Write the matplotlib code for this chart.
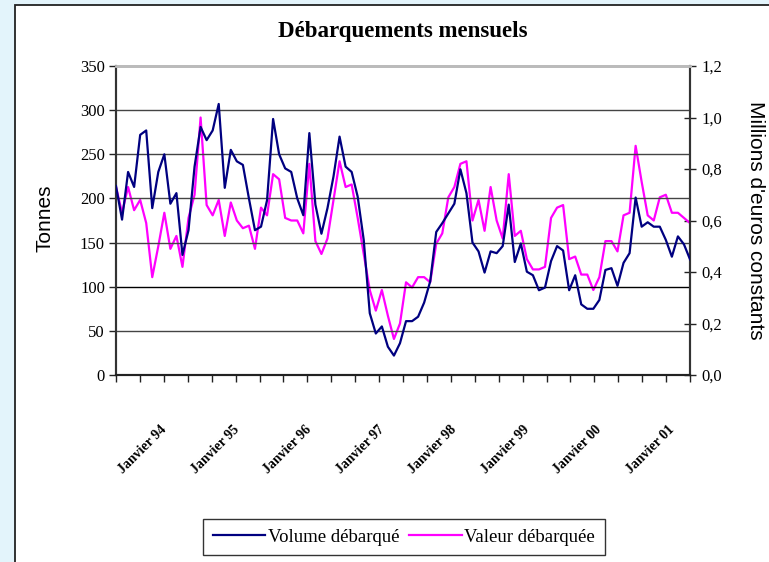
import numpy as np
import matplotlib
matplotlib.use('Agg')
import matplotlib.pyplot as plt
from matplotlib.patches import Rectangle
from matplotlib.ticker import FuncFormatter

# volume débarqué (tonnes), janvier 94 -> décembre 01
volume = [214, 176, 230, 213, 272, 277, 189, 230, 250, 194, 206, 136,
          164, 236, 281, 266, 277, 307, 212, 255, 242, 238, 200, 164,
          168, 198, 290, 250, 234, 230, 200, 181, 274, 193, 160, 189,
          225, 270, 236, 230, 202, 153, 70, 47, 55, 32, 22, 36,
          61, 61, 66, 82, 106, 162, 172, 183, 194, 233, 206, 150,
          140, 116, 140, 138, 146, 193, 128, 149, 117, 113, 96, 99,
          129, 146, 141, 96, 113, 80, 75, 75, 85, 119, 121, 101,
          127, 138, 201, 168, 173, 168, 168, 153, 134, 157, 148, 131]

# valeur débarquée (millions d'euros constants)
valeur = [0.73, 0.63, 0.73, 0.64, 0.68, 0.59, 0.38, 0.50, 0.63, 0.49, 0.54, 0.42,
          0.61, 0.70, 1.00, 0.66, 0.62, 0.68, 0.54, 0.67, 0.60, 0.57, 0.58, 0.49,
          0.65, 0.62, 0.78, 0.76, 0.61, 0.60, 0.60, 0.55, 0.82, 0.52, 0.47, 0.53,
          0.68, 0.83, 0.73, 0.74, 0.61, 0.47, 0.33, 0.25, 0.33, 0.23, 0.14, 0.20,
          0.36, 0.34, 0.38, 0.38, 0.36, 0.51, 0.55, 0.69, 0.73, 0.82, 0.83, 0.60,
          0.68, 0.56, 0.73, 0.60, 0.53, 0.78, 0.54, 0.56, 0.45, 0.41, 0.41, 0.42,
          0.61, 0.65, 0.66, 0.45, 0.46, 0.39, 0.39, 0.33, 0.38, 0.52, 0.52, 0.48,
          0.62, 0.63, 0.89, 0.75, 0.62, 0.60, 0.69, 0.70, 0.63, 0.63, 0.61, 0.59]

annees = ['94', '95', '96', '97', '98', '99', '00', '01']
x_labels = ['Janvier ' + a for a in annees]

serif = 'Liberation Serif'
sans = 'Liberation Sans'

W, H = 769, 562
fig = plt.figure(figsize=(W / 100, H / 100), dpi=100, facecolor='#E3F4FB')
fig.patches.append(Rectangle((15 / W, -0.01), 1.0, 1 - 5 / H + 0.01,
                             transform=fig.transFigure, facecolor='white',
                             edgecolor='#222222', lw=1.3, zorder=-5))

ax = fig.add_axes([116 / W, 1 - 375 / H, (690 - 116) / W, (375 - 66) / H])
x = np.arange(len(volume))

ax.set_xlim(0, len(volume) - 1)
ax.set_ylim(0, 350)
ax.set_yticks(range(0, 351, 50))
for v in range(50, 301, 50):
    ax.axhline(v, color='black' if v == 100 else '#444444', lw=1.0, zorder=1)

ax.plot(x, volume, color='#000080', lw=1.6, zorder=3, label='Volume débarqué')

ax2 = ax.twinx()
ax2.set_ylim(0, 1.2)
ax2.set_yticks(np.arange(0, 1.21, 0.2))
ax2.yaxis.set_major_formatter(FuncFormatter(lambda v, p: ('%.1f' % v).replace('.', ',')))
ax2.plot(x, valeur, color='#FF00FF', lw=1.6, zorder=2, label='Valeur débarquée')

# volume line above the value line, white background below both
ax.set_zorder(2)
ax2.set_zorder(1)
ax.patch.set_visible(False)
ax2.patch.set_visible(True)
ax2.patch.set_facecolor('white')

ax.set_xticks(np.linspace(0, len(volume) - 1, 25))
ax.set_xticklabels([])
ax.tick_params(axis='x', direction='out', length=5, width=1, color='#222222')
ax.tick_params(axis='y', direction='out', length=5, width=1, color='#222222',
               labelsize=12, pad=3)
ax2.tick_params(axis='y', direction='inout', length=8, width=1, color='#222222',
                labelsize=12, pad=4)
for lab in ax.get_yticklabels() + ax2.get_yticklabels():
    lab.set_fontfamily(serif)

for a in (ax, ax2):
    a.spines['top'].set_color('#bbbbbb')
    a.spines['top'].set_linewidth(2)
    a.spines['left'].set_color('#333333')
    a.spines['left'].set_linewidth(1.5)
    a.spines['right'].set_color('#333333')
    a.spines['right'].set_linewidth(1.5)
    a.spines['bottom'].set_color('#222222')
    a.spines['bottom'].set_linewidth(1.5)

for k, lab in enumerate(x_labels):
    ax.text(k * 12 + 7.3, -0.155, lab, transform=ax.get_xaxis_transform(),
            rotation=45, rotation_mode='anchor', ha='right', va='top',
            fontsize=10, fontfamily=serif, fontweight='bold')

fig.text(403 / W, 1 - 32 / H, 'Débarquements mensuels', ha='center', va='center',
         fontsize=16.5, fontweight='bold', fontfamily=serif)
fig.text(45 / W, 1 - 218 / H, 'Tonnes', rotation=90, ha='center', va='center',
         fontsize=15, fontfamily=sans)
fig.text(755 / W, 1 - 220 / H, "Millions d'euros constants", rotation=-90,
         ha='center', va='center', fontsize=15, fontfamily=sans)

h1, l1 = ax.get_legend_handles_labels()
h2, l2 = ax2.get_legend_handles_labels()
leg = fig.legend(h1 + h2, l1 + l2, loc='center', bbox_to_anchor=(404 / W, 1 - 537 / H),
                 ncol=2, frameon=True, fancybox=False, edgecolor='black',
                 handlelength=2.8, handletextpad=0.15, columnspacing=0.5,
                 borderpad=0.5, prop={'family': serif, 'size': 13.5})
leg.get_frame().set_linewidth(1.0)

fig.savefig('out.png', dpi=100, facecolor=fig.get_facecolor())
